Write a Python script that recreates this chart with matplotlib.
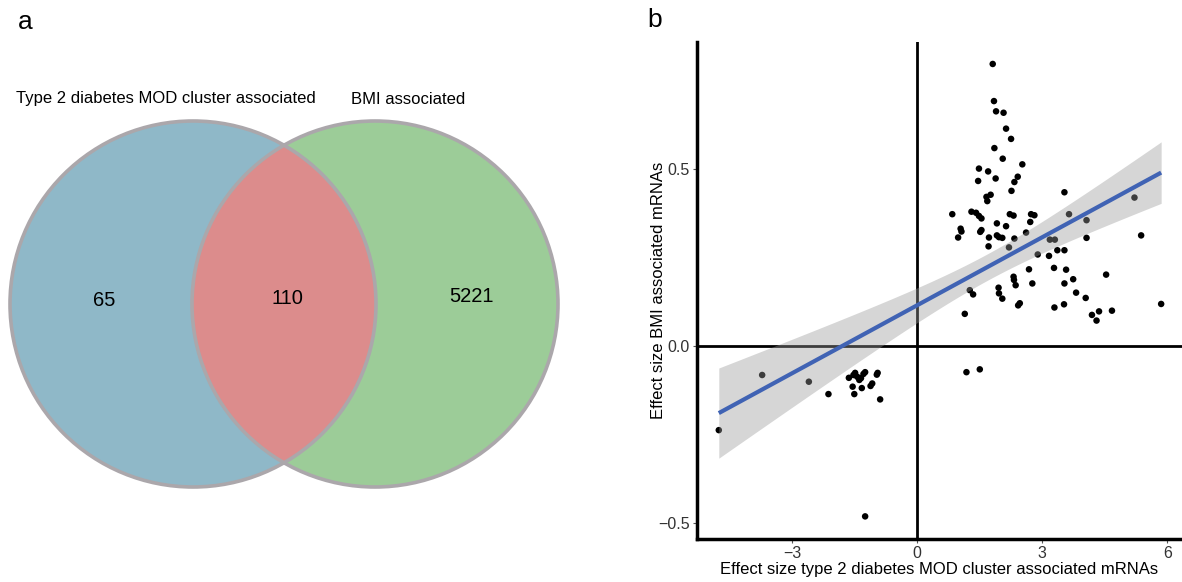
import matplotlib.pyplot as plt
import numpy as np
from matplotlib.patches import Circle

plt.rcParams['font.family'] = ['Liberation Sans', 'DejaVu Sans']

# venn counts
venn_labels = ['Type 2 diabetes MOD cluster associated', 'BMI associated']
venn_counts = [65, 110, 5221]  # only left, both, only right

# effect sizes (x: T2D MOD cluster, y: BMI)
eff_t2d = [1.81, 1.84, 1.89, 2.07, 2.13, 2.25, 1.85, 2.05, 1.48, 1.70,
           2.52, 1.88, 2.41, 2.33, 1.46, 2.26, 1.76, 1.66, 1.68, 3.53,
           0.84, 1.30, 1.41, 1.48, 1.54, 2.22, 2.31, 2.73, 2.81, 2.71,
           3.64, 1.91, 2.13, 1.04, 1.06, 0.98, 1.54, 1.51, 1.91, 1.96,
           2.04, 1.72, 2.33, 2.61, 1.71, 2.20, 3.18, 3.30, 4.06, 5.21,
           5.37, 4.06, 3.36, 3.53, 2.89, 3.16, 2.68, 3.28, 3.57, 2.31,
           2.32, 2.36, 1.95, 1.96, 2.04, 2.76, 3.53, 3.74, 4.53, 1.26,
           1.34, 3.81, 4.04, 2.42, 2.46, 3.29, 3.52, 1.14, 4.19, 4.36,
           4.30, 4.67, 5.85, 1.18, 1.50,
           -4.76, -3.72, -2.60, -2.13, -1.49, -1.53, -1.44, -1.35, -1.39, -1.64,
           -1.29, -1.25, -0.95, -0.97, -1.08, -1.12, -1.33, -1.55, -1.51, -0.89,
           -1.25]
eff_bmi = [0.798, 0.693, 0.664, 0.660, 0.615, 0.586, 0.560, 0.530, 0.502, 0.494,
           0.514, 0.474, 0.479, 0.464, 0.467, 0.439, 0.428, 0.422, 0.410, 0.435,
           0.373, 0.380, 0.377, 0.368, 0.361, 0.373, 0.369, 0.373, 0.370, 0.351,
           0.373, 0.347, 0.339, 0.332, 0.324, 0.307, 0.328, 0.323, 0.313, 0.308,
           0.306, 0.307, 0.304, 0.321, 0.282, 0.279, 0.301, 0.301, 0.356, 0.420,
           0.313, 0.306, 0.271, 0.271, 0.259, 0.255, 0.217, 0.221, 0.216, 0.196,
           0.187, 0.172, 0.165, 0.149, 0.134, 0.177, 0.177, 0.189, 0.202, 0.158,
           0.146, 0.151, 0.136, 0.115, 0.121, 0.109, 0.118, 0.091, 0.088, 0.098,
           0.072, 0.100, 0.119, -0.074, -0.066,
           -0.238, -0.082, -0.101, -0.136, -0.076, -0.082, -0.087, -0.091, -0.096, -0.090,
           -0.079, -0.074, -0.076, -0.081, -0.106, -0.113, -0.119, -0.115, -0.136, -0.151,
           -0.482]

xticks = [-3, 0, 3, 6]
yticks = [-0.5, 0.0, 0.5]

fig = plt.figure(figsize=(11.82, 5.82), dpi=100)

#---------------- a: venn
ax_v = fig.add_axes([0, 0, 591 / 1182, 1])
ax_v.set_xlim(0, 591)
ax_v.set_ylim(582, 0)
ax_v.axis('off')

r = 183
c_left = (193, 304)
c_right = (375, 304)
edge = '#aba7ab'
ax_v.add_patch(Circle(c_left, r, facecolor='#8fb8c8', edgecolor='none', zorder=1))
ax_v.add_patch(Circle(c_right, r, facecolor='#9ccc98', edgecolor='none', zorder=1))
# overlap: right circle clipped to the left one
mid = Circle(c_right, r, facecolor='#dc8c8c', edgecolor='none', zorder=2)
ax_v.add_patch(mid)
mid.set_clip_path(Circle(c_left, r, transform=ax_v.transData))
ax_v.add_patch(Circle(c_left, r, fill=False, edgecolor=edge, lw=2.6, zorder=3))
ax_v.add_patch(Circle(c_right, r, fill=False, edgecolor=edge, lw=2.6, zorder=3))

ax_v.text(104, 301, str(venn_counts[0]), fontsize=14.5, ha='center', va='center')
ax_v.text(287, 299, str(venn_counts[1]), fontsize=14.5, ha='center', va='center')
ax_v.text(471, 297, str(venn_counts[2]), fontsize=14.5, ha='center', va='center')
ax_v.text(166, 99, venn_labels[0], fontsize=12, ha='center', va='center')
ax_v.text(408, 99, venn_labels[1], fontsize=12, ha='center', va='center')

fig.text(25 / 1182, 1 - 22 / 582, 'a', fontsize=19, ha='center', va='center')
fig.text(655 / 1182, 1 - 20 / 582, 'b', fontsize=19, ha='center', va='center')

#---------------- b: scatter + lm fit
ax = fig.add_axes([696.7 / 1182, 1 - 539 / 582, 1 - 696.7 / 1182, (539 - 41.7) / 582])
x = np.array(eff_t2d)
y = np.array(eff_bmi)

ax.scatter(x, y, s=22, color='black', edgecolor='none', zorder=2)

# linear fit with 95% CI like geom_smooth(method='lm')
n = len(x)
slope, icpt = np.polyfit(x, y, 1)
xs = np.linspace(x.min(), x.max(), 100)
ys = icpt + slope * xs
resid = y - (icpt + slope * x)
s_err = np.sqrt(np.sum(resid ** 2) / (n - 2))
se = s_err * np.sqrt(1 / n + (xs - x.mean()) ** 2 / np.sum((x - x.mean()) ** 2))
t_val = 1.983
ax.fill_between(xs, ys - t_val * se, ys + t_val * se, color='#999999', alpha=0.4,
                lw=0, zorder=3)
ax.plot(xs, ys, color='#4063b4', lw=3, zorder=4, solid_capstyle='butt')

ax.axhline(0, color='black', lw=2, zorder=1)
ax.axvline(0, color='black', lw=2, zorder=1)

ax.set_xlim(-5.29, 6.35)
ax.set_ylim(-0.546, 0.861)
ax.set_xticks(xticks)
ax.set_xticklabels(['\u22123', '0', '3', '6'])
ax.set_yticks(yticks)
ax.set_yticklabels(['\u22120.5', '0.0', '0.5'])
ax.tick_params(length=3, width=0.8, color='#555555', labelsize=11.5, labelcolor='#333333', pad=2)
for side in ['top', 'right']:
    ax.spines[side].set_visible(False)
for side in ['left', 'bottom']:
    ax.spines[side].set_linewidth(2.5)
ax.set_xlabel('Effect size type 2 diabetes MOD cluster associated mRNAs', fontsize=12, labelpad=1)
ax.set_ylabel('Effect size BMI associated mRNAs', fontsize=12)
ax.yaxis.set_label_coords(-0.064, 0.5)

fig.savefig('out.png', dpi=100)
